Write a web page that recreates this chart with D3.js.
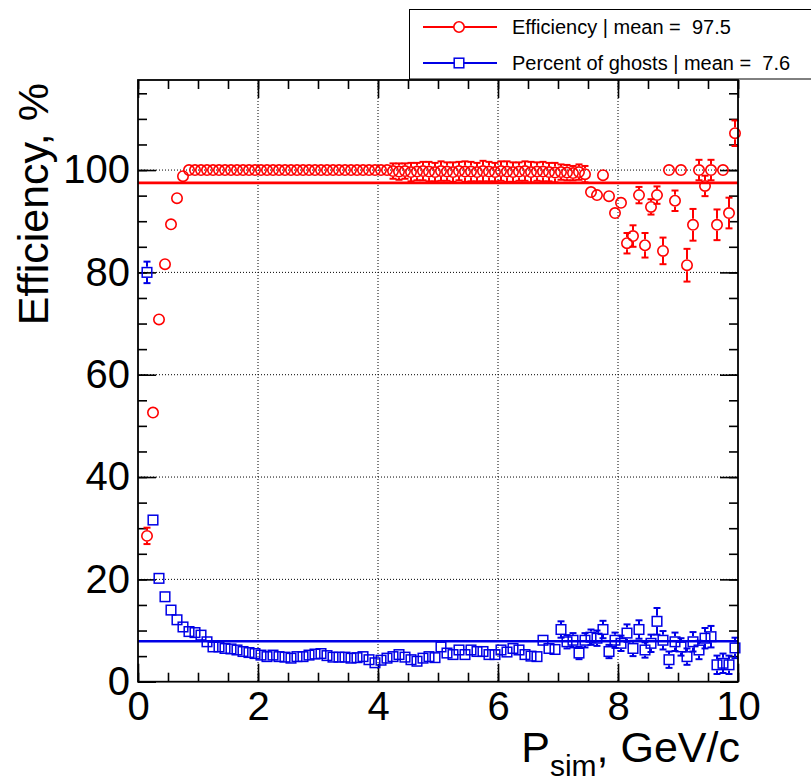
<!DOCTYPE html>
<html>
<head>
<meta charset="utf-8">
<script src="https://cdn.jsdelivr.net/npm/d3@7"></script>
<style>
  body { margin: 0; background: #fff; }
  text { font-family: "Liberation Sans", Arial, Helvetica, sans-serif; white-space: pre; }
</style>
</head>
<body>
<div class="chart"></div>
<script>
// bin centers, GeV/c
var pSim = [
  0.15, 0.25, 0.35, 0.45, 0.55, 0.65, 0.75, 0.85, 0.95, 1.05,
  1.15, 1.25, 1.35, 1.45, 1.55, 1.65, 1.75, 1.85, 1.95, 2.05,
  2.15, 2.25, 2.35, 2.45, 2.55, 2.65, 2.75, 2.85, 2.95, 3.05,
  3.15, 3.25, 3.35, 3.45, 3.55, 3.65, 3.75, 3.85, 3.95, 4.05,
  4.15, 4.25, 4.35, 4.45, 4.55, 4.65, 4.75, 4.85, 4.95, 5.05,
  5.15, 5.25, 5.35, 5.45, 5.55, 5.65, 5.75, 5.85, 5.95, 6.05,
  6.15, 6.25, 6.35, 6.45, 6.55, 6.65, 6.75, 6.85, 6.95, 7.05,
  7.15, 7.25, 7.35, 7.45, 7.55, 7.65, 7.75, 7.85, 7.95, 8.05,
  8.15, 8.25, 8.35, 8.45, 8.55, 8.65, 8.75, 8.85, 8.95, 9.05,
  9.15, 9.25, 9.35, 9.45, 9.55, 9.65, 9.75, 9.85, 9.95
];

var efficiency = [
  28.5, 52.6, 70.8, 81.6, 89.4, 94.5, 98.8, 100, 100, 100,
  100, 100, 100, 100, 100, 100, 100, 100, 100, 100,
  100, 100, 100, 100, 100, 100, 100, 100, 100, 100,
  100, 100, 100, 100, 100, 100, 100, 100, 100, 100,
  100, 99.8, 99.7, 99.8, 99.6, 99.7, 99.8, 99.7, 99.6, 99.8,
  99.7, 99.6, 99.8, 99.7, 99.7, 99.6, 99.8, 99.7, 99.6, 99.8,
  99.7, 99.6, 99.7, 99.8, 99.6, 99.7, 99.7, 99.6, 99.5, 99.6,
  99.5, 99.4, 99.6, 99.2, 95.7, 95.1, 99.0, 94.9, 91.6, 93.6,
  85.7, 87.1, 95.1, 85.3, 92.8, 95.1, 84.2, 100, 94.0, 100,
  81.4, 89.3, 100, 96.9, 100, 89.3, 100, 91.6, 107.2
];

var efficiencyErr = [
  1.6, 1.0, 0.9, 0.8, 0.7, 0.6, 0.4, 0, 0, 0,
  0, 0, 0, 0, 0, 0, 0, 0, 0, 0,
  0, 0, 0, 0, 0, 0, 0, 0, 0, 0,
  0, 0, 0, 0, 0, 0, 0, 0, 0, 0,
  0, 1.5, 1.6, 1.5, 1.8, 1.7, 1.8, 1.9, 1.8, 1.9,
  1.8, 1.9, 1.8, 2.0, 1.9, 1.8, 2.0, 1.9, 1.8, 1.9,
  2.0, 1.9, 1.8, 1.9, 2.0, 1.8, 1.9, 1.8, 1.9, 1.5,
  1.5, 1.4, 1.5, 1.6, 1.0, 1.0, 1.0, 1.0, 0.9, 1.1,
  2.0, 2.1, 1.6, 2.4, 1.5, 1.7, 2.6, 0, 2.0, 0,
  3.2, 3.1, 2.0, 2.0, 2.0, 3.0, 0, 3.0, 2.5
];

var ghosts = [
  80.0, 31.6, 20.2, 16.6, 14.0, 12.1, 10.7, 9.8, 9.6, 9.1,
  7.8, 6.8, 6.8, 6.5, 6.4, 6.2, 5.9, 5.7, 5.5, 5.2,
  4.9, 5.2, 4.9, 4.8, 4.6, 4.9, 4.9, 5.2, 5.4, 5.5,
  5.1, 4.8, 4.8, 4.8, 4.6, 4.7, 4.9, 4.3, 3.7, 4.2,
  4.6, 4.9, 5.3, 4.8, 4.3, 4.0, 4.6, 4.9, 4.7, 6.8,
  5.6, 5.3, 6.2, 5.3, 6.2, 5.9, 5.9, 5.3, 5.3, 6.2,
  5.8, 6.5, 6.2, 5.3, 5.0, 4.9, 8.1, 6.5, 6.3, 10.2,
  7.8, 8.1, 5.6, 8.1, 8.7, 8.5, 10.2, 5.9, 8.1, 7.5,
  9.5, 6.5, 10.2, 6.2, 7.5, 11.8, 8.1, 4.3, 7.8, 6.8,
  4.9, 7.8, 6.2, 8.5, 8.8, 3.3, 3.6, 3.3, 6.6
];

var ghostsErr = [
  2.1, 0.8, 0.6, 0.5, 0.5, 0.5, 0.4, 0.4, 0.4, 0.4,
  0.4, 0.4, 0.4, 0.4, 0.4, 0.4, 0.4, 0.4, 0.4, 0.4,
  0.4, 0.4, 0.4, 0.4, 0.4, 0.4, 0.4, 0.4, 0.5, 0.5,
  0.5, 0.5, 0.5, 0.5, 0.5, 0.5, 0.5, 0.5, 0.5, 0.5,
  0.5, 0.6, 0.6, 0.6, 0.6, 0.6, 0.6, 0.6, 0.6, 0.7,
  0.7, 0.7, 0.7, 0.7, 0.7, 0.7, 0.7, 0.7, 0.7, 0.8,
  0.8, 0.8, 0.8, 0.8, 0.8, 0.8, 1.0, 0.9, 0.9, 1.6,
  1.3, 1.4, 1.2, 1.4, 1.5, 1.5, 1.7, 1.3, 1.5, 1.5,
  1.7, 1.5, 1.8, 1.5, 1.7, 2.6, 1.8, 1.6, 1.8, 1.7,
  1.6, 1.9, 1.8, 2.0, 2.1, 1.8, 1.9, 1.8, 2.0
];

var xTicks = [0, 2, 4, 6, 8, 10];
var yTicks = [0, 20, 40, 60, 80, 100];
var meanEff = "97.5";
var meanGhost = "7.6";
// levels of the two horizontal mean lines as drawn
var meanLevels = [97.5, 7.9];

var svgWidth = 811;
var svgHeight = 782;

var margin = { top: 80, right: 73, bottom: 100.3, left: 138 };
var width = svgWidth - margin.left - margin.right;
var height = svgHeight - margin.top - margin.bottom;

var red = "#ff0000";
var blue = "#0000e6";
var circleR = 5.2;
var squareS = 9.6;

var svg = d3.select(".chart")
  .append("svg")
  .attr("width", svgWidth)
  .attr("height", svgHeight);

var chartGroup = svg.append("g")
  .attr("transform", `translate(${margin.left}, ${margin.top})`);

var xScale = d3.scaleLinear().domain([0, 10]).range([0, width]);
var yScale = d3.scaleLinear().domain([0, 117.6]).range([height, 0]);

// dotted grid at major ticks
chartGroup.append("g")
  .selectAll("line.gx")
  .data(xTicks.slice(1, -1))
  .enter()
  .append("line")
  .attr("x1", d => xScale(d)).attr("x2", d => xScale(d))
  .attr("y1", 0).attr("y2", height)
  .attr("stroke", "#000").attr("stroke-width", 1)
  .attr("stroke-dasharray", "1,2");

chartGroup.append("g")
  .selectAll("line.gy")
  .data(yTicks.slice(1))
  .enter()
  .append("line")
  .attr("x1", 0).attr("x2", width)
  .attr("y1", d => yScale(d)).attr("y2", d => yScale(d))
  .attr("stroke", "#000").attr("stroke-width", 1)
  .attr("stroke-dasharray", "1,2");

// axes, ROOT style: ticks inside the frame on all four sides
var xMinor = d3.range(0, 10.01, 0.5);
var yMinor = d3.range(0, 117, 5);

function styleAxis(g) {
  g.select(".domain").remove();
  g.selectAll(".tick line").attr("stroke", "#000").attr("stroke-width", 1.6);
}

chartGroup.append("g")
  .attr("transform", `translate(0, ${height})`)
  .call(d3.axisBottom(xScale).tickValues(xMinor).tickSize(-9).tickFormat(""))
  .call(styleAxis);
var xAxisG = chartGroup.append("g")
  .attr("transform", `translate(0, ${height})`)
  .call(d3.axisBottom(xScale).tickValues(xTicks).tickSize(-18).tickPadding(10).tickFormat(d3.format("d")))
  .call(styleAxis);
xAxisG.selectAll("text")
  .attr("font-size", 40).attr("fill", "#000")
  .attr("font-family", "Liberation Sans, Arial, sans-serif");

chartGroup.append("g")
  .call(d3.axisTop(xScale).tickValues(xMinor).tickSize(-9).tickFormat(""))
  .call(styleAxis);
chartGroup.append("g")
  .call(d3.axisTop(xScale).tickValues(xTicks).tickSize(-18).tickFormat(""))
  .call(styleAxis);

chartGroup.append("g")
  .call(d3.axisLeft(yScale).tickValues(yMinor).tickSize(-9).tickFormat(""))
  .call(styleAxis);
var yAxisG = chartGroup.append("g")
  .call(d3.axisLeft(yScale).tickValues(yTicks).tickSize(-18).tickPadding(8).tickFormat(d3.format("d")))
  .call(styleAxis);
yAxisG.selectAll("text")
  .attr("font-size", 40).attr("fill", "#000")
  .attr("font-family", "Liberation Sans, Arial, sans-serif");

chartGroup.append("g")
  .attr("transform", `translate(${width}, 0)`)
  .call(d3.axisRight(yScale).tickValues(yMinor).tickSize(-9).tickFormat(""))
  .call(styleAxis);
chartGroup.append("g")
  .attr("transform", `translate(${width}, 0)`)
  .call(d3.axisRight(yScale).tickValues(yTicks).tickSize(-18).tickFormat(""))
  .call(styleAxis);

// error bars with end caps, drawn outside the marker
function drawErrors(group, vals, errs, color, gap) {
  var eg = group.append("g").attr("stroke", color).attr("stroke-width", 2);
  vals.forEach(function(v, i) {
    var e = errs[i];
    if (!e) return;
    var cx = xScale(pSim[i]);
    var cy = yScale(v);
    var top = yScale(v + e);
    var bot = yScale(v - e);
    if (cy - top > gap) {
      eg.append("line").attr("x1", cx).attr("x2", cx).attr("y1", cy - gap).attr("y2", top);
      eg.append("line").attr("x1", cx - 3.5).attr("x2", cx + 3.5).attr("y1", top).attr("y2", top);
    }
    if (bot - cy > gap) {
      eg.append("line").attr("x1", cx).attr("x2", cx).attr("y1", cy + gap).attr("y2", bot);
      eg.append("line").attr("x1", cx - 3.5).attr("x2", cx + 3.5).attr("y1", bot).attr("y2", bot);
    }
  });
}

// efficiency
drawErrors(chartGroup, efficiency, efficiencyErr, red, circleR + 0.8);
chartGroup.append("g")
  .selectAll("circle")
  .data(efficiency)
  .enter()
  .append("circle")
  .attr("cx", (d, i) => xScale(pSim[i]))
  .attr("cy", d => yScale(d))
  .attr("r", circleR)
  .attr("fill", "none")
  .attr("stroke", red)
  .attr("stroke-width", 1.6);

// ghosts
drawErrors(chartGroup, ghosts, ghostsErr, blue, squareS / 2 + 0.8);
chartGroup.append("g")
  .selectAll("rect")
  .data(ghosts)
  .enter()
  .append("rect")
  .attr("x", (d, i) => xScale(pSim[i]) - squareS / 2)
  .attr("y", d => yScale(d) - squareS / 2)
  .attr("width", squareS)
  .attr("height", squareS)
  .attr("fill", "none")
  .attr("stroke", blue)
  .attr("stroke-width", 1.5);

// mean lines
chartGroup.selectAll("line.mean")
  .data(meanLevels)
  .enter()
  .append("line")
  .attr("x1", 0).attr("x2", width)
  .attr("y1", d => yScale(d)).attr("y2", d => yScale(d))
  .attr("stroke", (d, i) => i === 0 ? red : blue)
  .attr("stroke-width", 2.6);

// frame
chartGroup.append("rect")
  .attr("x", 0).attr("y", 0)
  .attr("width", width).attr("height", height)
  .attr("fill", "none")
  .attr("stroke", "#000")
  .attr("stroke-width", 1.8);

// axis titles
svg.append("text")
  .attr("transform", `translate(48, 83) rotate(-90)`)
  .attr("text-anchor", "end")
  .attr("font-size", 43)
  .text("Efficiency, %");

var xTitle = svg.append("text")
  .attr("x", margin.left + width + 2)
  .attr("y", 762)
  .attr("text-anchor", "end")
  .attr("font-size", 43);
xTitle.append("tspan").text("P");
xTitle.append("tspan").attr("font-size", 30).attr("dy", 14).text("sim");
xTitle.append("tspan").attr("dy", -14).text(", GeV/c");

// legend
var legend = svg.append("g");
legend.append("rect")
  .attr("x", 409.5).attr("y", 9.5)
  .attr("width", 420).attr("height", 69.5)
  .attr("fill", "#fff")
  .attr("stroke", "#000")
  .attr("stroke-width", 1);

var legendRows = [
  { label: "Efficiency | mean =  " + meanEff, color: red, y: 27 },
  { label: "Percent of ghosts | mean =  " + meanGhost, color: blue, y: 63 }
];

legendRows.forEach(function(row, i) {
  legend.append("line")
    .attr("x1", 423).attr("x2", 497)
    .attr("y1", row.y).attr("y2", row.y)
    .attr("stroke", row.color).attr("stroke-width", 2);
  if (i === 0) {
    legend.append("circle")
      .attr("cx", 459).attr("cy", row.y).attr("r", circleR)
      .attr("fill", "#fff").attr("stroke", row.color).attr("stroke-width", 1.6);
  } else {
    legend.append("rect")
      .attr("x", 459 - squareS / 2).attr("y", row.y - squareS / 2)
      .attr("width", squareS).attr("height", squareS)
      .attr("fill", "#fff").attr("stroke", row.color).attr("stroke-width", 1.5);
  }
  legend.append("text")
    .attr("x", 512)
    .attr("y", row.y + 7)
    .attr("font-size", 20)
    .attr("xml:space", "preserve")
    .text(row.label);
});
</script>
</body>
</html>
